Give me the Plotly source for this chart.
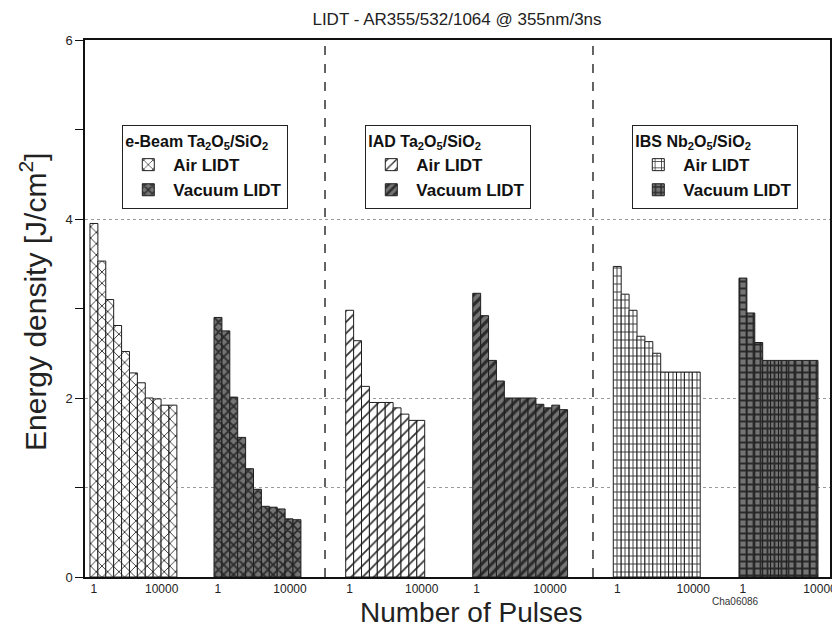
import plotly.graph_objects as go

# ---------------- data ----------------
series_names = ["Air LIDT", "Vacuum LIDT"]
coating_titles = [
    "e-Beam Ta<sub>2</sub>O<sub>5</sub>/SiO<sub>2</sub>",
    "IAD Ta<sub>2</sub>O<sub>5</sub>/SiO<sub>2</sub>",
    "IBS Nb<sub>2</sub>O<sub>5</sub>/SiO<sub>2</sub>",
]
ebeam_air = [3.95, 3.53, 3.10, 2.81, 2.52, 2.28, 2.17, 2.00, 1.99, 1.92, 1.92]
ebeam_vac = [2.90, 2.75, 2.01, 1.56, 1.21, 0.98, 0.79, 0.78, 0.76, 0.65, 0.64]
iad_air = [2.98, 2.64, 2.13, 1.95, 1.95, 1.95, 1.89, 1.82, 1.75, 1.75]
iad_vac = [3.17, 2.92, 2.42, 2.19, 2.00, 2.00, 2.00, 2.00, 1.93, 1.89, 1.92, 1.87]
ibs_air = [3.47, 3.16, 2.98, 2.69, 2.63, 2.50, 2.29, 2.29, 2.29, 2.29, 2.29]
ibs_vac = [3.34, 2.95, 2.62, 2.42, 2.42, 2.42, 2.42, 2.42, 2.42, 2.42]
tick_labels = ["1", "10000"]
y_tick_labels = ["0", "", "2", "4", "6"]
y_tick_values = [0, 1, 2, 4, 6]

# ---------------- layout helpers (positions in bar slots) ----------------
group_start = [0.63, 16.33, 33.0, 49.08, 66.87, 82.78]
last_tick_offset = [9.08, 9.62, 9.62, 9.78, 10.12, 10.26]
separators = [30.38, 64.30]
x_max = 94.3

series = [ebeam_air, ebeam_vac, iad_air, iad_vac, ibs_air, ibs_vac]
shapes_pat = ["x", "x", "/", "/", "+", "+"]
legend_ids = ["legend", "legend", "legend2", "legend2", "legend3", "legend3"]

fig = go.Figure()
tickvals, ticktext = [], []
for k, vals in enumerate(series):
    s0 = group_start[k]
    xs = [s0 + 0.5 + i for i in range(len(vals))]
    vac = (k % 2 == 1)
    pattern = dict(
        shape=shapes_pat[k],
        size=7 if vac else 8,
        solidity=0.45 if vac else 0.22,
        fgcolor="#2b2b2b" if vac else "#333333",
        bgcolor="#747474" if vac else "#ffffff",
        fillmode="replace",
    )
    fig.add_trace(go.Bar(
        x=xs, y=vals, width=1.0,
        name=series_names[k % 2],
        legend=legend_ids[k],
        marker=dict(color="#747474" if vac else "#ffffff",
                    line=dict(color="#1e1e1e", width=1),
                    pattern=pattern),
        showlegend=True,
    ))
    tickvals += [s0 + 0.5, s0 + last_tick_offset[k]]
    ticktext += tick_labels

base_font = "Liberation Sans, Arial, sans-serif"
legend_x = [(122 - 85) / 745, (365 - 85) / 745, (632 - 85) / 745]
legend_common = dict(
    y=(577 - 125) / 537, yanchor="top", xanchor="left",
    bgcolor="white", bordercolor="#222", borderwidth=1.3,
    font=dict(family=base_font, size=17, color="#111", weight="bold"),
    itemwidth=40, tracegroupgap=0, traceorder="normal",
)
legends = {}
for j, key in enumerate(["legend", "legend2", "legend3"]):
    legends[key] = dict(
        legend_common, x=legend_x[j],
        title=dict(text=coating_titles[j], side="top",
                   font=dict(family=base_font, size=16, color="#111", weight="bold")),
    )

shapes = [
    dict(type="line", xref="x", yref="y", x0=sx, x1=sx, y0=0, y1=6,
         line=dict(color="#111", width=1.3, dash="dash"))
    for sx in separators
]

fig.update_layout(
    width=832, height=631,
    margin=dict(l=85, r=2, t=40, b=54, autoexpand=False),
    paper_bgcolor="white", plot_bgcolor="white",
    barmode="overlay",
    font=dict(family=base_font, color="#111"),
    title=dict(text="LIDT - AR355/532/1064 @ 355nm/3ns",
               x=457 / 832, xref="container", xanchor="center",
               y=1 - 19 / 631, yref="container", yanchor="middle",
               font=dict(family=base_font, size=17, color="#222")),
    shapes=shapes,
    xaxis=dict(range=[0, x_max], showgrid=False, zeroline=False,
               showline=True, mirror=True, linecolor="#111", linewidth=1.5,
               tickmode="array", tickvals=tickvals, ticktext=ticktext,
               ticklabeloverflow="allow", automargin=False,
               ticks="", tickfont=dict(size=12, color="#222")),
    yaxis=dict(range=[0, 6], zeroline=False, automargin=False,
               showline=True, mirror=True, linecolor="#111", linewidth=1.5,
               tickmode="array", tickvals=y_tick_values, ticktext=y_tick_labels,
               ticks="outside", ticklen=8, tickcolor="#111",
               tickfont=dict(size=13, color="#222"),
               showgrid=True, gridcolor="#9a9a9a", griddash="dot", gridwidth=1,
               minor=dict(tickmode="array", tickvals=[3, 5], ticks="outside",
                          ticklen=8, tickcolor="#111", showgrid=False)),
    annotations=[
        dict(text="Energy density [J/cm<sup>2</sup>]", textangle=-90,
             xref="paper", yref="paper", x=(33 - 85) / 745, y=(577 - 302) / 537,
             xanchor="center", yanchor="middle", showarrow=False,
             font=dict(family=base_font, size=30, color="#222")),
        dict(text="Number of Pulses",
             xref="paper", yref="paper", x=(471 - 85) / 745, y=(577 - 612) / 537,
             xanchor="center", yanchor="middle", showarrow=False,
             font=dict(family=base_font, size=28, color="#222")),
        dict(text="Cha06086",
             xref="paper", yref="paper", x=(735 - 85) / 745, y=(577 - 601) / 537,
             xanchor="center", yanchor="middle", showarrow=False,
             font=dict(family=base_font, size=10, color="#333")),
    ],
)
fig.update_layout(**legends)

fig.write_html("out.html",
               config={"displayModeBar": False},
               post_script="document.body.style.margin='0';document.body.style.overflow='hidden';")
